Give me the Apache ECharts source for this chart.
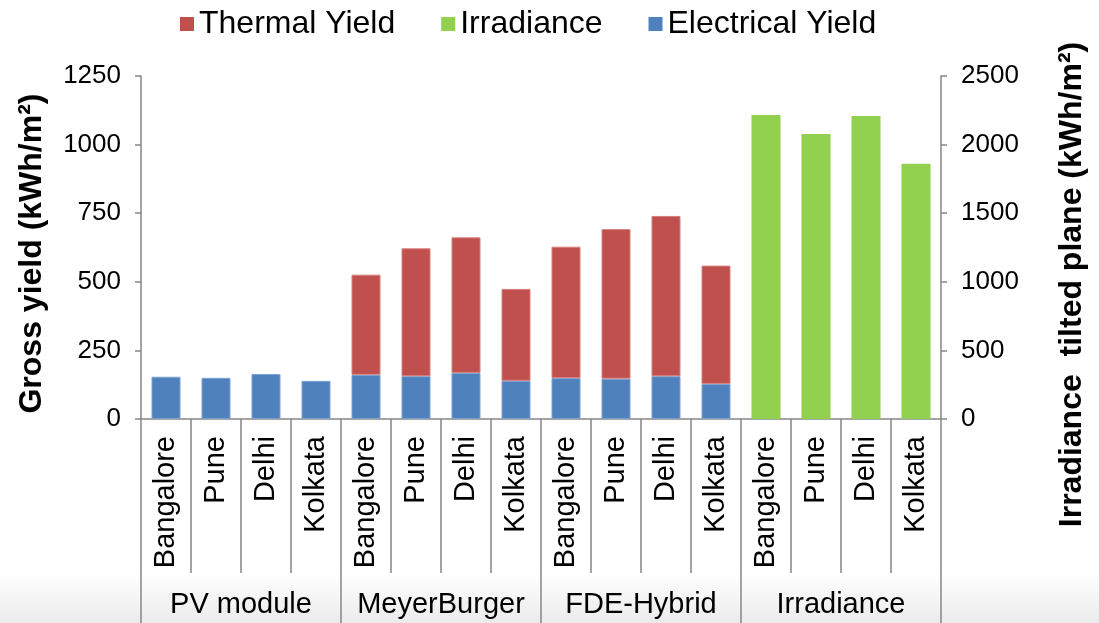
<!DOCTYPE html>
<html>
<head>
<meta charset="utf-8">
<script src="https://cdn.jsdelivr.net/npm/echarts@6/dist/echarts.min.js"></script>
<style>
html,body{margin:0;padding:0;background:#fff;}
#chart{width:1099px;height:623px;}
</style>
</head>
<body>
<div id="chart"></div>
<script>
const cities = ['Bangalore', 'Pune', 'Delhi', 'Kolkata'];
const groups = ['PV module', 'MeyerBurger', 'FDE-Hybrid', 'Irradiance'];
const categories = [].concat(cities, cities, cities, cities);
const electricalYield = [154, 150, 164, 139, 161, 156, 168, 139, 149, 147, 156, 128, null, null, null, null];
const thermalYield = [null, null, null, null, 365, 466, 494, 335, 479, 545, 584, 431, null, null, null, null];
const irradiance = [null, null, null, null, null, null, null, null, null, null, null, null, 2216, 2078, 2209, 1860];
const leftTicks = [0, 1250, 250];
const rightTicks = [0, 2500, 500];

const FONT = '"Liberation Sans", Arial, sans-serif';
const GRAY = '#868686';
const plain = function (v) { return String(v); };

const chart = echarts.init(document.getElementById('chart'));
chart.setOption({
  animation: false,
  backgroundColor: '#ffffff',
  textStyle: { fontFamily: FONT, color: '#000' },
  graphic: [{
    type: 'rect',
    z: -10,
    silent: true,
    shape: { x: 0, y: 572, width: 1099, height: 51 },
    style: {
      fill: new echarts.graphic.LinearGradient(0, 0, 0, 1, [
        { offset: 0, color: '#ffffff' },
        { offset: 1, color: '#ebebeb' }
      ])
    }
  }],
  legend: {
    left: 175,
    top: 3,
    itemWidth: 14,
    itemHeight: 14,
    itemGap: 46,
    icon: 'rect',
    itemStyle: { borderWidth: 0 },
    textStyle: { fontSize: 32, fontFamily: FONT, color: '#000' },
    data: ['Thermal Yield', 'Irradiance', 'Electrical Yield']
  },
  grid: { left: 141, right: 158, top: 76, bottom: 204, containLabel: false },
  xAxis: [{
    type: 'category',
    position: 'bottom',
    data: categories,
    axisLine: { show: true, lineStyle: { color: GRAY, width: 1.5 } },
    axisTick: { show: true, interval: 0, length: 154, lineStyle: { color: GRAY, width: 1.5 } },
    axisLabel: { interval: 0, rotate: 90, margin: 17, fontSize: 29, fontFamily: FONT, color: '#000' }
  }, {
    type: 'category',
    position: 'bottom',
    data: groups,
    axisLine: { show: false },
    axisTick: { show: true, interval: 0, length: 204, lineStyle: { color: GRAY, width: 1.5 } },
    axisLabel: { interval: 0, margin: 171, fontSize: 29, fontFamily: FONT, color: '#000' }
  }],
  yAxis: [{
    type: 'value',
    min: leftTicks[0], max: leftTicks[1], interval: leftTicks[2],
    position: 'left',
    name: 'Gross yield (kWh/m²)',
    nameLocation: 'middle',
    nameRotate: 90,
    nameGap: 93,
    nameTextStyle: { fontSize: 32, fontWeight: 'bold', fontFamily: FONT, color: '#000', padding: [0, 12, 0, 0] },
    axisLine: { show: true, lineStyle: { color: GRAY, width: 1.5 } },
    axisTick: { show: true, length: 6, lineStyle: { color: GRAY, width: 1.5 } },
    axisLabel: { margin: 20, fontSize: 26, fontFamily: FONT, color: '#000', formatter: plain },
    splitLine: { show: false }
  }, {
    type: 'value',
    min: rightTicks[0], max: rightTicks[1], interval: rightTicks[2],
    position: 'right',
    name: 'Irradiance  tilted plane (kWh/m²)',
    nameLocation: 'middle',
    nameRotate: 90,
    nameGap: 115,
    nameTextStyle: { fontSize: 32, fontWeight: 'bold', fontFamily: FONT, color: '#000', padding: [0, 74, 0, 0] },
    axisLine: { show: true, lineStyle: { color: GRAY, width: 1.5 } },
    axisTick: { show: true, length: 6, lineStyle: { color: GRAY, width: 1.5 } },
    axisLabel: { margin: 20, fontSize: 26, fontFamily: FONT, color: '#000', formatter: plain },
    splitLine: { show: false }
  }],
  series: [{
    name: 'Electrical Yield',
    type: 'bar',
    stack: 'yield',
    xAxisIndex: 0,
    yAxisIndex: 0,
    barWidth: 29,
    barGap: '-100%',
    itemStyle: { color: '#4F81BD', borderColor: '#7fa2d0', borderWidth: 1 },
    data: electricalYield
  }, {
    name: 'Thermal Yield',
    type: 'bar',
    stack: 'yield',
    xAxisIndex: 0,
    yAxisIndex: 0,
    barWidth: 29,
    barGap: '-100%',
    itemStyle: { color: '#C0504D', borderColor: '#d67e7c', borderWidth: 1 },
    data: thermalYield
  }, {
    name: 'Irradiance',
    type: 'bar',
    xAxisIndex: 0,
    yAxisIndex: 1,
    barWidth: 29,
    barGap: '-100%',
    itemStyle: { color: '#92D050' },
    data: irradiance
  }]
});
</script>
</body>
</html>
